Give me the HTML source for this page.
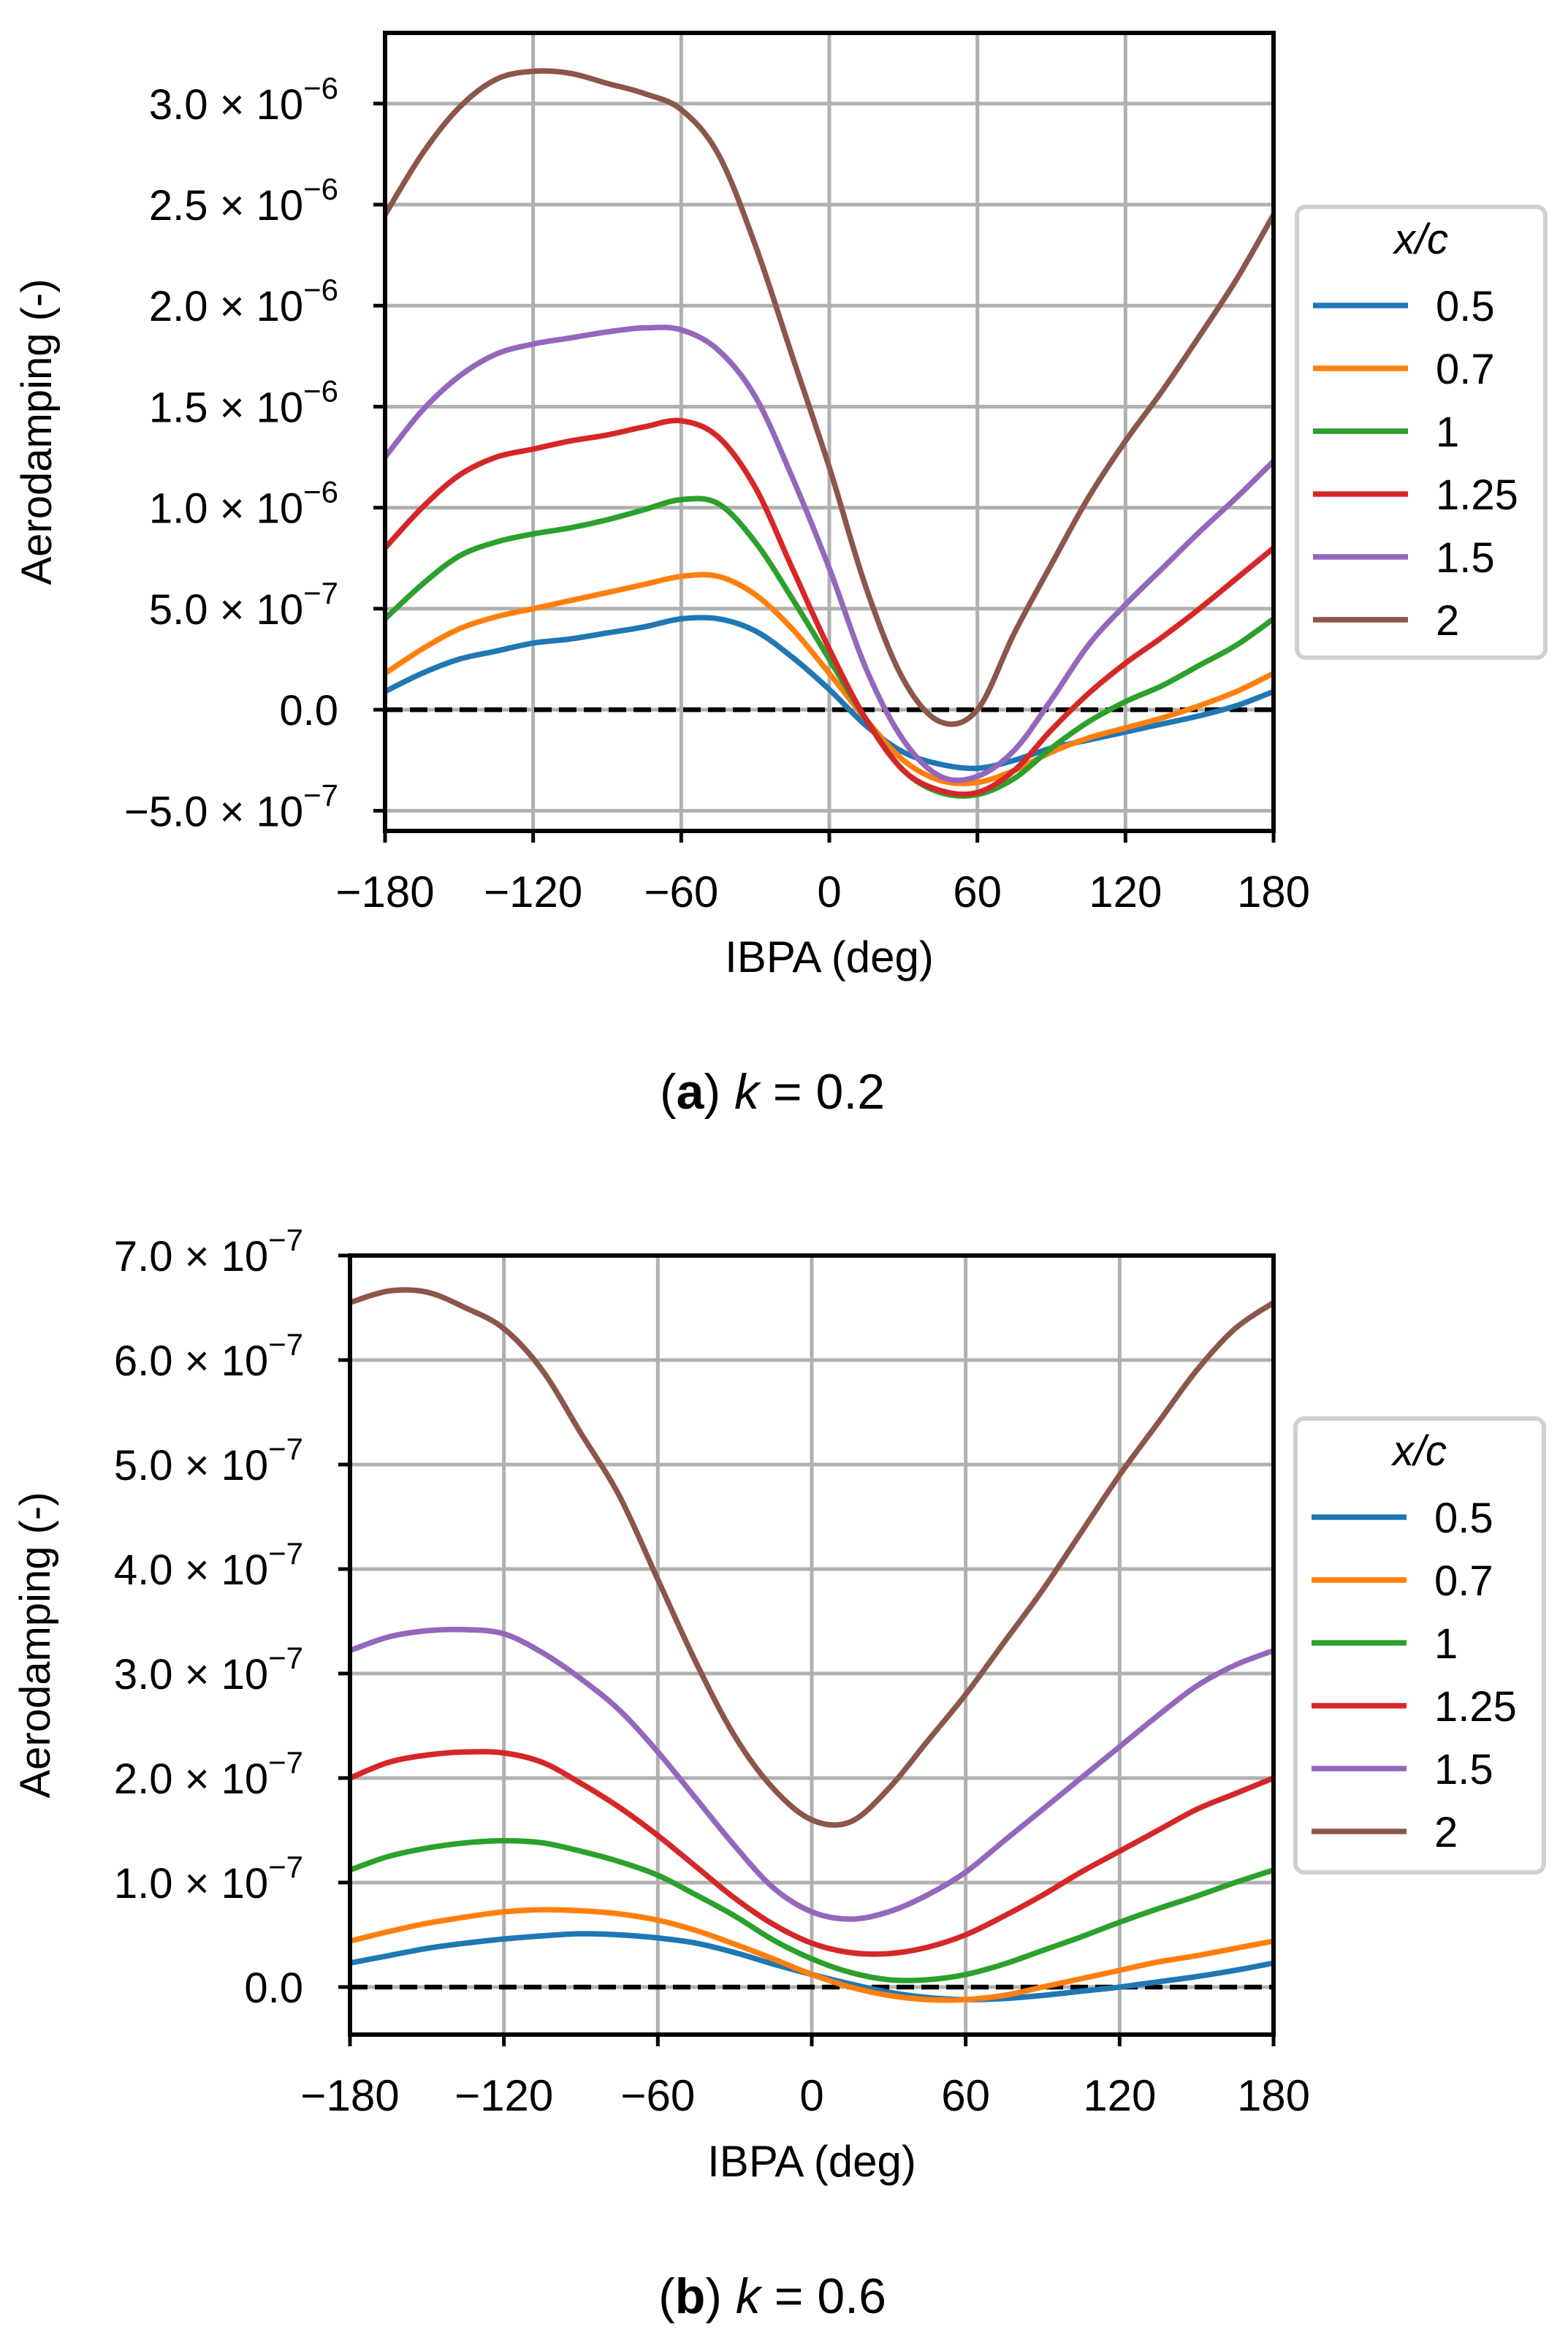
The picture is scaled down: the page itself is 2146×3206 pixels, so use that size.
<!DOCTYPE html>
<html><head><meta charset="utf-8"><style>
html,body{margin:0;padding:0;background:#fff;}
svg{display:block;}
text{font-family:"Liberation Sans",sans-serif;}
</style></head><body>
<svg id="fig" width="2146" height="3206" viewBox="0 0 2146 3206" xmlns="http://www.w3.org/2000/svg"></svg>
<script>
// ---- shared data ----
const ibpa = [-180,-165,-150,-135,-120,-105,-90,-75,-60,-45,-30,-15,0,15,30,45,60,75,90,105,120,135,150,165,180];
const seriesNames = ["0.5","0.7","1","1.25","1.5","2"];
const seriesColors = ["#1f77b4","#ff7f0e","#2ca02c","#d62728","#9467bd","#8c564b"];
const xTickValues = [-180,-120,-60,0,60,120,180];
const xTickLabels = ["\u2212180","\u2212120","\u221260","0","60","120","180"];

// ---- panel (a) k=0.2, values in units of 1e-7 ----
const a_s05  = [0.9,1.8,2.5,2.9,3.3,3.5,3.8,4.1,4.5,4.5,3.9,2.6,1,-0.8,-2.1,-2.7,-2.9,-2.5,-1.9,-1.5,-1.1,-0.7,-0.3,0.2,0.9];
const a_s07  = [1.8,3,4,4.6,5,5.4,5.8,6.2,6.6,6.6,5.7,4,1.8,-0.5,-2.5,-3.5,-3.6,-3,-2.1,-1.4,-0.9,-0.4,0.2,0.9,1.8];
const a_s1   = [4.5,6.2,7.6,8.3,8.7,9,9.4,9.9,10.4,10.2,8.3,5.5,2.5,-0.5,-3,-4.1,-4.2,-3.4,-1.9,-0.6,0.4,1.2,2.2,3.2,4.5];
const a_s125 = [8,10,11.6,12.5,12.9,13.3,13.6,14,14.3,13.5,11,7,3,-0.5,-3,-4,-4.1,-3,-1,0.8,2.3,3.6,5,6.5,8];
const a_s15  = [12.5,14.8,16.5,17.6,18.1,18.4,18.7,18.9,18.8,17.8,15.5,11.5,7,2,-1.5,-3.3,-3.3,-2,0.5,3.2,5.2,7,8.8,10.5,12.3];
const a_s2   = [24.5,27.5,29.8,31.2,31.6,31.5,31.0,30.5,29.7,27.5,23,17.5,12,6,1.5,-0.6,0,3.8,7.2,10.5,13.3,15.8,18.5,21.3,24.5];
const a_yTicks = [-5,0,5,10,15,20,25,30];
const a_yMant = ["\u22125.0","0.0","5.0","1.0","1.5","2.0","2.5","3.0"];
const a_yExp  = ["\u22127","","\u22127","\u22126","\u22126","\u22126","\u22126","\u22126"];

// ---- panel (b) k=0.6, values in units of 1e-7 ----
const b_s05  = [0.23,0.3,0.37,0.42,0.46,0.49,0.51,0.5,0.47,0.42,0.33,0.22,0.12,0.03,-0.05,-0.1,-0.12,-0.11,-0.08,-0.04,0.0,0.05,0.1,0.16,0.23];
const b_s07  = [0.44,0.53,0.61,0.67,0.72,0.74,0.73,0.7,0.64,0.54,0.41,0.27,0.12,0.0,-0.08,-0.12,-0.12,-0.08,0.0,0.08,0.16,0.24,0.3,0.37,0.44];
const b_s1   = [1.12,1.25,1.33,1.38,1.4,1.38,1.3,1.2,1.07,0.88,0.68,0.45,0.27,0.14,0.07,0.07,0.12,0.22,0.35,0.48,0.62,0.75,0.87,1.0,1.12];
const b_s125 = [2.0,2.15,2.22,2.25,2.24,2.15,1.95,1.72,1.45,1.15,0.85,0.6,0.42,0.33,0.32,0.38,0.5,0.68,0.88,1.1,1.3,1.5,1.7,1.85,2.0];
const b_s15  = [3.22,3.35,3.41,3.42,3.38,3.2,2.95,2.65,2.25,1.8,1.35,0.95,0.72,0.65,0.72,0.88,1.1,1.4,1.7,2.0,2.3,2.6,2.88,3.08,3.22];
const b_s2   = [6.55,6.66,6.65,6.5,6.3,5.9,5.3,4.7,3.9,3.1,2.4,1.9,1.6,1.58,1.9,2.35,2.8,3.3,3.8,4.35,4.9,5.4,5.9,6.3,6.55];
const b_yTicks = [0,1,2,3,4,5,6,7];
const b_yMant = ["0.0","1.0","2.0","3.0","4.0","5.0","6.0","7.0"];
const b_yExp  = ["","\u22127","\u22127","\u22127","\u22127","\u22127","\u22127","\u22127"];

const NS = "http://www.w3.org/2000/svg";
const fig = document.getElementById('fig');
function mk(tag, attrs, parent){
  const e = document.createElementNS(NS, tag);
  for (const k in attrs) e.setAttribute(k, attrs[k]);
  (parent||fig).appendChild(e);
  return e;
}
function smoothPath(pts){
  let d = `M${pts[0][0]},${pts[0][1]}`;
  for (let i=0;i<pts.length-1;i++){
    const p0=pts[Math.max(0,i-1)], p1=pts[i], p2=pts[i+1], p3=pts[Math.min(pts.length-1,i+2)];
    const c1x=p1[0]+(p2[0]-p0[0])/6, c1y=p1[1]+(p2[1]-p0[1])/6;
    const c2x=p2[0]-(p3[0]-p1[0])/6, c2y=p2[1]-(p3[1]-p1[1])/6;
    d += ` C${c1x},${c1y} ${c2x},${c2y} ${p2[0]},${p2[1]}`;
  }
  return d;
}

function panel(cfg){
  const g = mk('g', {});
  
  
  const xs = v => cfg.L + (v+180)/360*(cfg.R-cfg.L);
  const ys = v => cfg.B - (v-cfg.yMin)/(cfg.yMax-cfg.yMin)*(cfg.B-cfg.T);
  xTickValues.forEach(v=>{
    const l = mk('line',{x1:xs(v),x2:xs(v),y1:cfg.T,y2:cfg.B,stroke:'#b0b0b0','stroke-width':5},g);
    
    
  });
  cfg.yTicks.forEach(v=>{
    const l = mk('line',{x1:cfg.L,x2:cfg.R,y1:ys(v),y2:ys(v),stroke:'#b0b0b0','stroke-width':5},g);
    
    
  });
  const z = mk('line',{x1:cfg.L,x2:cfg.R,y1:ys(0),y2:ys(0),stroke:'#000','stroke-width':6.5,'stroke-dasharray':'24,10'},g);
  
  
  const cid = cfg.name+'-clip';
  const cp = mk('clipPath',{id:cid},g);
  mk('rect',{x:cfg.L,y:cfg.T,width:cfg.R-cfg.L,height:cfg.B-cfg.T},cp);
  cfg.series.forEach((vals,i)=>{
    const pts = vals.map((v,j)=>[xs(ibpa[j]), ys(v)]);
    const p = mk('path',{d:smoothPath(pts),fill:'none',stroke:seriesColors[i],'stroke-width':7.5,'stroke-linejoin':'round','stroke-linecap':'round','clip-path':`url(#${cid})`},g);
    
    
  });
  const sp = mk('rect',{x:cfg.L,y:cfg.T,width:cfg.R-cfg.L,height:cfg.B-cfg.T,fill:'none',stroke:'#000','stroke-width':6},g);
  
  
  xTickValues.forEach((v,i)=>{
    mk('line',{x1:xs(v),x2:xs(v),y1:cfg.B,y2:cfg.B+16,stroke:'#000','stroke-width':5},g);
    const t = mk('text',{x:xs(v),y:cfg.B+104,'text-anchor':'middle','font-size':60},g);
    t.textContent = xTickLabels[i];
    
    
  });
  cfg.yTicks.forEach((v,i)=>{
    mk('line',{x1:cfg.L-16,x2:cfg.L,y1:ys(v),y2:ys(v),stroke:'#000','stroke-width':5},g);
    const t = mk('text',{x:cfg.L-64,y:ys(v)+21,'text-anchor':'end','font-size':58},g);
    
    
    if (cfg.yExp[i]===''){ t.textContent = cfg.yMant[i]; }
    else {
      const a = mk('tspan',{},t); a.textContent = cfg.yMant[i]+' \u00d7 10';
      const b = mk('tspan',{dy:-28,'font-size':42},t); b.textContent = cfg.yExp[i];
    }
  });
  const xl = mk('text',{x:(cfg.L+cfg.R)/2,y:cfg.xLabelY,'text-anchor':'middle','font-size':60},g);
  xl.textContent = 'IBPA (deg)';
  
  
  const yl = mk('text',{x:0,y:0,'text-anchor':'middle','font-size':58,'font-family':'DejaVu Sans, sans-serif',transform:`translate(${cfg.yLabelX},${(cfg.T+cfg.B)/2}) rotate(-90)`},g);
  yl.textContent = 'Aerodamping (-)';
  
  
  const lg = mk('g',{},g);
  
  
  mk('rect',{x:cfg.lx,y:cfg.ly,width:340,height:cfg.lh,rx:12,fill:'#fff',stroke:'#d0d0d0','stroke-width':6},lg);
  const tt = mk('text',{x:cfg.lx+170,y:cfg.ly+64,'text-anchor':'middle','font-size':58,'font-style':'italic'},lg);
  tt.textContent = 'x/c';
  
  
  seriesNames.forEach((n,i)=>{
    const yy = cfg.ly + cfg.firstEntry + i*cfg.entryGap;
    const e = mk('g',{},lg);
    
    
    mk('line',{x1:cfg.lx+22,x2:cfg.lx+152,y1:yy,y2:yy,stroke:seriesColors[i],'stroke-width':7.5},e);
    const t = mk('text',{x:cfg.lx+190,y:yy+21,'font-size':58},e);
    t.textContent = n;
  });
  const cap = mk('text',{x:1057,y:cfg.capY,'text-anchor':'middle','font-size':68,'font-family':'Liberation Serif, serif'},g);
  
  
  const c1 = mk('tspan',{},cap); c1.textContent='(';
  const c2 = mk('tspan',{'font-weight':'bold'},cap); c2.textContent=cfg.letter;
  const c3 = mk('tspan',{},cap); c3.textContent=') ';
  const c4 = mk('tspan',{'font-style':'italic'},cap); c4.textContent='k';
  const c5 = mk('tspan',{},cap); c5.textContent=' = '+cfg.k;
}

panel({name:'panel-a-k-0-2',L:527,R:1743,T:45,B:1137,yMin:-6.0,yMax:33.5,
  series:[a_s05,a_s07,a_s1,a_s125,a_s15,a_s2],yTicks:a_yTicks,yMant:a_yMant,yExp:a_yExp,
  xLabelY:1330,yLabelX:70,lx:1775,ly:283,lh:617,firstEntry:135,entryGap:86,
  capY:1517,letter:'a',k:'0.2'});
panel({name:'panel-b-k-0-6',L:479,R:1743,T:1718,B:2784,yMin:-0.455,yMax:7.0,
  series:[b_s05,b_s07,b_s1,b_s125,b_s15,b_s2],yTicks:b_yTicks,yMant:b_yMant,yExp:b_yExp,
  xLabelY:2978,yLabelX:68,lx:1773,ly:1941,lh:621,firstEntry:135,entryGap:86,
  capY:3165,letter:'b',k:'0.6'});
</script>
</body></html>
